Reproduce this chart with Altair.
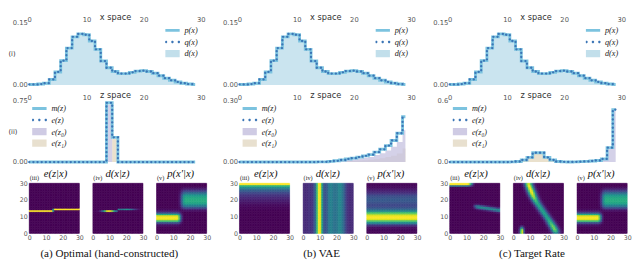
import math
import altair as alt
import pandas as pd

# ---------------- values ----------------
BINS = list(range(30))

# x space (same in all three columns)
p_x = [0.001, 0.001, 0.002, 0.004, 0.013, 0.031, 0.058, 0.088, 0.115, 0.122,
       0.120, 0.105, 0.085, 0.057, 0.041, 0.032, 0.027, 0.027, 0.030, 0.033,
       0.034, 0.032, 0.028, 0.022, 0.016, 0.011, 0.007, 0.004, 0.002, 0.001]
q_x = [0.001, 0.001, 0.002, 0.004, 0.013, 0.031, 0.058, 0.088, 0.115, 0.122,
       0.120, 0.105, 0.085, 0.057, 0.041, 0.032, 0.027, 0.027, 0.030, 0.033,
       0.034, 0.032, 0.028, 0.022, 0.016, 0.011, 0.007, 0.004, 0.002, 0.001]
d_x = [0.001, 0.001, 0.002, 0.004, 0.013, 0.031, 0.058, 0.088, 0.115, 0.122,
       0.120, 0.105, 0.085, 0.057, 0.041, 0.032, 0.027, 0.027, 0.030, 0.033,
       0.034, 0.032, 0.028, 0.022, 0.016, 0.011, 0.007, 0.004, 0.002, 0.001]

# z space, (a) optimal
m_a = [0, 0, 0, 0, 0, 0, 0, 0, 0, 0, 0, 0, 0, 0, 0.72,
       0.30, 0, 0, 0, 0, 0, 0, 0, 0, 0, 0, 0, 0, 0, 0]
ez_a = [0, 0, 0, 0, 0, 0, 0, 0, 0, 0, 0, 0, 0, 0, 0.72,
        0.30, 0, 0, 0, 0, 0, 0, 0, 0, 0, 0, 0, 0, 0, 0]
e0_a = [0, 0, 0, 0, 0, 0, 0, 0, 0, 0, 0, 0, 0, 0, 0.70,
        0, 0, 0, 0, 0, 0, 0, 0, 0, 0, 0, 0, 0, 0, 0]
e1_a = [0, 0, 0, 0, 0, 0, 0, 0, 0, 0, 0, 0, 0, 0, 0,
        0.28, 0, 0, 0, 0, 0, 0, 0, 0, 0, 0, 0, 0, 0, 0]

# z space, (b) VAE
m_b = [0, 0, 0, 0, 0, 0, 0, 0, 0, 0, 0, 0, 0, 0, 0.001,
       0.001, 0.003, 0.006, 0.010, 0.015, 0.019, 0.024, 0.030, 0.036, 0.048,
       0.062, 0.080, 0.105, 0.140, 0.220]
ez_b = [0, 0, 0, 0, 0, 0, 0, 0, 0, 0, 0, 0, 0, 0, 0.001,
        0.001, 0.003, 0.006, 0.010, 0.015, 0.019, 0.024, 0.030, 0.036, 0.048,
        0.062, 0.080, 0.105, 0.140, 0.220]
e0_b = [0, 0, 0, 0, 0, 0, 0, 0, 0, 0, 0, 0, 0, 0, 0.001,
        0.001, 0.002, 0.004, 0.007, 0.010, 0.013, 0.017, 0.021, 0.025, 0.034,
        0.043, 0.056, 0.074, 0.098, 0.154]
e1_b = [0, 0, 0, 0, 0, 0, 0, 0, 0, 0, 0, 0, 0, 0, 0,
        0, 0.001, 0.002, 0.003, 0.005, 0.006, 0.007, 0.009, 0.011, 0.014,
        0.019, 0.024, 0.031, 0.042, 0.066]

# z space, (c) target rate
m_c = [0, 0, 0, 0, 0, 0, 0, 0, 0, 0, 0, 0.002, 0.005, 0.020, 0.045,
       0.090, 0.090, 0.045, 0.020, 0.005, 0.002, 0.001, 0.002, 0.004, 0.006,
       0.010, 0.015, 0.030, 0.140, 0.510]
ez_c = [0, 0, 0, 0, 0, 0, 0, 0, 0, 0, 0, 0.002, 0.005, 0.020, 0.045,
        0.090, 0.090, 0.045, 0.020, 0.005, 0.002, 0.001, 0.002, 0.004, 0.006,
        0.010, 0.015, 0.030, 0.140, 0.510]
e0_c = [0, 0, 0, 0, 0, 0, 0, 0, 0, 0, 0, 0, 0, 0, 0,
        0, 0, 0, 0, 0, 0, 0, 0.002, 0.004, 0.006,
        0.010, 0.015, 0.030, 0.140, 0.510]
e1_c = [0, 0, 0, 0, 0, 0, 0, 0, 0, 0, 0, 0.002, 0.005, 0.018, 0.040,
        0.082, 0.082, 0.040, 0.018, 0.005, 0.002, 0, 0, 0, 0,
        0, 0, 0, 0, 0]

# ---- heatmap readings (rows = vertical 0..29, cols = x 0..29) ----
# (a) e(z|x): weight on row 13 per column, rest goes to row 14
e_a_low = [1, 1, 1, 1, 1, 1, 1, 1, 1, 1, 1, 1, 1, 1, 0.5,
           0, 0, 0, 0, 0, 0, 0, 0, 0, 0, 0, 0, 0, 0, 0]
# (a) d(x|z): brightness of the two rows (13 and 14)
d_a_gain = [1.0, 0.5]
# (a)/(c) p(x'|x): two blocks
p_left_rows = [0, 0, 0, 0, 0.02, 0.08, 0.25, 0.70, 0.95, 1.0,
               0.95, 0.60, 0.22, 0.07, 0.02, 0, 0, 0, 0, 0,
               0, 0, 0, 0, 0, 0, 0, 0, 0, 0]
p_right_rows = [0, 0, 0, 0, 0, 0, 0, 0, 0, 0,
                0, 0, 0, 0.03, 0.10, 0.25, 0.40, 0.52, 0.60, 0.62,
                0.62, 0.60, 0.55, 0.45, 0.33, 0.20, 0.10, 0.04, 0, 0]
p_left_cols = [1, 1, 1, 1, 1, 1, 1, 1, 1, 1, 1, 1, 1, 0.8, 0.4,
               0.1, 0, 0, 0, 0, 0, 0, 0, 0, 0, 0, 0, 0, 0, 0]
p_right_cols = [0, 0, 0, 0, 0, 0, 0, 0, 0, 0, 0, 0, 0, 0.05, 0.25,
                0.6, 0.9, 1, 1, 1, 1, 1, 1, 1, 1, 1, 1, 1, 1, 1]
# (b) VAE
e_b_rows = [0, 0, 0, 0, 0, 0, 0, 0, 0, 0, 0, 0, 0, 0, 0.01,
            0.01, 0.02, 0.03, 0.05, 0.07, 0.09, 0.11, 0.14, 0.17, 0.22,
            0.28, 0.36, 0.48, 0.64, 1.0]
d_b_cols = [0.12, 0.12, 0.12, 0.14, 0.14, 0.15, 0.22, 0.35, 0.70, 1.0,
            0.95, 0.55, 0.28, 0.25, 0.30, 0.40, 0.44, 0.42, 0.38, 0.38,
            0.40, 0.45, 0.45, 0.40, 0.32, 0.22, 0.15, 0.12, 0.12, 0.12]
p_b_rows = [0.01, 0.01, 0.02, 0.03, 0.10, 0.25, 0.48, 0.72, 0.94, 1.0,
            0.98, 0.86, 0.70, 0.47, 0.34, 0.26, 0.22, 0.22, 0.25, 0.27,
            0.28, 0.26, 0.23, 0.18, 0.13, 0.09, 0.06, 0.03, 0.02, 0.01]
# (c) target rate, e(z|x)
e_c_row29 = [1, 1, 1, 1, 1, 1, 1, 1, 1, 1, 1, 0.95, 0.7, 0.35, 0.1,
             0, 0, 0, 0, 0, 0, 0, 0, 0, 0, 0, 0, 0, 0, 0]
e_c_row28 = [0.35, 0.35, 0.35, 0.35, 0.35, 0.35, 0.35, 0.35, 0.35, 0.35, 0.35, 0.3, 0.2, 0.1, 0.03,
             0, 0, 0, 0, 0, 0, 0, 0, 0, 0, 0, 0, 0, 0, 0]
e_c_line_center = [0, 0, 0, 0, 0, 0, 0, 0, 0, 0, 0, 0, 0, 0, 16.3,
                   16.2, 16.0, 15.9, 15.7, 15.6, 15.4, 15.3, 15.1, 15.0, 14.8,
                   14.7, 14.5, 14.4, 14.2, 14.1]
e_c_line_gain = [0, 0, 0, 0, 0, 0, 0, 0, 0, 0, 0, 0, 0, 0, 0.1,
                 0.3, 0.45, 0.5, 0.5, 0.5, 0.5, 0.5, 0.5, 0.5, 0.5,
                 0.5, 0.5, 0.5, 0.5, 0.5]
# (c) d(x|z): diagonal ridge, centre x and brightness for each row
d_c_center = [25.5, 25.2, 24.8, 24.3, 23.7, 23.1, 22.5, 21.9, 21.2, 20.5,
              19.8, 19.1, 18.4, 17.7, 17.0, 16.3, 15.6, 14.9, 14.2, 13.6,
              13.0, 12.5, 12.0, 11.6, 11.2, 10.8, 10.4, 10.0, 9.6, 9.3]
d_c_gain = [0.5, 0.7, 0.8, 0.8, 0.8, 0.75, 0.7, 0.65, 0.62, 0.6,
            0.58, 0.58, 0.58, 0.58, 0.6, 0.6, 0.6, 0.62, 0.65, 0.7,
            0.75, 0.85, 0.9, 0.95, 1.0, 1.0, 1.0, 1.0, 1.0, 0.95]
d_c_blob_gain = [1.0, 1.0, 0.9, 0.5, 0.15, 0, 0, 0, 0, 0,
                 0, 0, 0, 0, 0, 0, 0, 0, 0, 0, 0, 0, 0, 0, 0, 0, 0, 0, 0, 0]
d_c_blob_x = 5.2

# ---------------- style ----------------
BG = "#EAEAF2"
LBL = "#555555"
LINE = "#7cc3df"
DOT = "#3b75b6"
AREA = "#a7d2e4"
PURP = "#c6c2e0"
BEIGE = "#e6dcc4"
W = 178
H_TOP = 65
H_MID = 64
HW = 52
HH = 52

SH_LINE = "M-1,-0.2H1V0.2H-1Z"
SH_DOTS = ("M-1.06,0a0.17,0.17 0 1,0 0.34,0a0.17,0.17 0 1,0 -0.34,0Z"
           "M-0.17,0a0.17,0.17 0 1,0 0.34,0a0.17,0.17 0 1,0 -0.34,0Z"
           "M0.72,0a0.17,0.17 0 1,0 0.34,0a0.17,0.17 0 1,0 -0.34,0Z")
SH_RECT = "M-1,-0.5H1V0.5H-1Z"


def legend_layer(names, colors, shapes, orient):
    lg = alt.Legend(title=None, orient=orient, offset=3, padding=0,
                    symbolSize=225, symbolStrokeWidth=0, symbolOpacity=1,
                    labelFont="Liberation Serif", labelFontStyle="italic",
                    labelFontSize=8.5, labelColor="#222222", clipHeight=11,
                    rowPadding=1, labelOffset=5)
    df = pd.DataFrame({"s": names})
    return alt.Chart(df).mark_point(filled=True).encode(
        color=alt.Color("s:N", scale=alt.Scale(domain=names, range=colors), legend=lg),
        shape=alt.Shape("s:N", scale=alt.Scale(domain=names, range=shapes), legend=lg),
        opacity=alt.value(0),
    )


def x_axis(title):
    return alt.Axis(orient="top", values=[0, 10, 20, 30], labelFontSize=7,
                    labelColor=LBL, labelPadding=0, labelFlush=False,
                    labelOverlap=False, ticks=False, domain=False,
                    gridColor="white", gridWidth=1, title=title,
                    titleFontSize=8.5, titleFontWeight="normal", titleColor="#333333",
                    titleY=-1, titleBaseline="bottom", titleFont="DejaVu Sans")


def y_axis(vals, fmt, title, h):
    kw = dict(values=vals, format=fmt, labelFontSize=7, labelColor=LBL,
              labelPadding=2, labelFlush=False, labelOverlap=False, ticks=False,
              domain=False, gridColor="white", gridWidth=1)
    if title:
        kw.update(title=title, titleAngle=0, titleX=-22, titleY=h / 2,
                  titleAlign="left", titleBaseline="middle", titleFontSize=7,
                  titleFontWeight="normal", titleColor="#333333")
    else:
        kw.update(title=None)
    return alt.Axis(**kw)


def top_panel(first):
    df = pd.DataFrame({"x": BINS, "p": p_x, "q": q_x, "d": d_x})
    base = alt.Chart(df)
    xs = alt.X("x:Q", scale=alt.Scale(domain=[0, 30], nice=False, zero=False),
               axis=x_axis("x space"))
    ys = alt.Y("d:Q", scale=alt.Scale(domain=[0, 0.15], nice=False),
               axis=y_axis([0, 0.05, 0.1, 0.15], ".2f", "(i)" if first else None, H_TOP))
    area = base.mark_area(interpolate="step", color=AREA, opacity=0.6).encode(x=xs, y=ys)
    line = base.mark_line(interpolate="step", color=LINE, strokeWidth=3).encode(x="x:Q", y="p:Q")
    dots = base.mark_line(interpolate="step", color=DOT, strokeWidth=2.4,
                          strokeDash=[0.1, 4.2], strokeCap="round").encode(x="x:Q", y="q:Q")
    leg = legend_layer(["p(x)", "q(x)", "d(x)"], [LINE, DOT, "#c2dfeb"],
                       [SH_LINE, SH_DOTS, SH_RECT], "top-right")
    return alt.layer(area, line, dots, leg).properties(width=W, height=H_TOP)


def mid_panel(m, ez, e0, e1, ymax, yvals, fmt, first):
    df = pd.DataFrame({"z": BINS, "m": m, "e": ez, "e0": e0, "e1": e1})
    base = alt.Chart(df)
    xs = alt.X("z:Q", scale=alt.Scale(domain=[0, 30], nice=False, zero=False),
               axis=x_axis("z space"))
    ys = alt.Y("e1:Q", scale=alt.Scale(domain=[0, ymax], nice=False),
               axis=y_axis(yvals, fmt, "(ii)" if first else None, H_MID))
    a1 = base.mark_area(interpolate="step", color=BEIGE, opacity=0.85).encode(x=xs, y=ys)
    a0 = base.mark_area(interpolate="step", color=PURP, opacity=0.75).encode(x="z:Q", y="e0:Q")
    line = base.mark_line(interpolate="step", color=LINE, strokeWidth=3).encode(x="z:Q", y="m:Q")
    dots = base.mark_line(interpolate="step", color=DOT, strokeWidth=2.4,
                          strokeDash=[0.1, 4.2], strokeCap="round").encode(x="z:Q", y="e:Q")
    leg = legend_layer(["m(z)", "e(z)", "e(z\u2080)", "e(z\u2081)"],
                       [LINE, DOT, "#cfcbe4", "#e8e0cf"],
                       [SH_LINE, SH_DOTS, SH_RECT, SH_RECT], "top-left")
    return alt.layer(a1, a0, line, dots, leg).properties(width=W, height=H_MID)


def heat_df(grid):
    recs = []
    for r in range(30):
        for c in range(30):
            recs.append({"c": c, "c2": c + 1, "r": r, "r2": r + 1,
                         "v": round(max(0.0, min(1.0, float(grid[r][c]))), 4)})
    return pd.DataFrame(recs)


def gauss(pos, centre, width):
    return math.exp(-0.5 * ((pos - centre) / width) ** 2)


def grid_e_a():
    g = [[0.0] * 30 for _ in range(30)]
    for c in range(30):
        g[13][c] = e_a_low[c]
        g[14][c] = 1 - e_a_low[c]
    return g


def grid_d_a():
    g = [[0.0] * 30 for _ in range(30)]
    lmax = max(p_x[:15])
    rmax = max(p_x[15:])
    for c in range(30):
        if c < 15:
            g[13][c] = d_a_gain[0] * p_x[c] / lmax
        else:
            g[14][c] = d_a_gain[1] * p_x[c] / rmax
    return g


def grid_p_blocks():
    return [[p_left_rows[r] * p_left_cols[c] + p_right_rows[r] * p_right_cols[c]
             for c in range(30)] for r in range(30)]


def grid_e_b():
    return [[e_b_rows[r] for c in range(30)] for r in range(30)]


def grid_d_b():
    return [[d_b_cols[c] for c in range(30)] for r in range(30)]


def grid_p_b():
    return [[p_b_rows[r] for c in range(30)] for r in range(30)]


def grid_e_c():
    g = [[0.0] * 30 for _ in range(30)]
    for c in range(30):
        g[29][c] += e_c_row29[c]
        g[28][c] += e_c_row28[c]
        if e_c_line_gain[c] > 0:
            for r in range(30):
                g[r][c] += e_c_line_gain[c] * gauss(r + 0.5, e_c_line_center[c], 0.8)
    return g


def grid_d_c():
    g = [[0.0] * 30 for _ in range(30)]
    for r in range(30):
        for c in range(30):
            g[r][c] = (d_c_gain[r] * gauss(c + 0.5, d_c_center[r], 1.6)
                       + d_c_blob_gain[r] * gauss(c + 0.5, d_c_blob_x, 0.8))
    return g


VIR = alt.Scale(scheme="viridis", domain=[0, 1])


def heatmap(grid, roman, name, dx, first):
    ykw = dict(values=[0, 10, 20, 30], labels=first, labelFontSize=6.5, labelColor=LBL,
               labelPadding=2, labelFlush=False, labelOverlap=False, ticks=False,
               domain=False, grid=False, title=roman, titleAngle=0, titleX=0, titleY=-3,
               titleAlign="left", titleBaseline="bottom", titleFontSize=6.5,
               titleFontWeight="normal", titleFont="Liberation Serif", titleColor="#222222")
    xax = alt.Axis(values=[0, 10, 20, 30], labelFontSize=6.5, labelColor=LBL,
                   labelPadding=1, labelFlush=False, labelOverlap=False, ticks=False,
                   domain=False, grid=False, title=None)
    return alt.Chart(heat_df(grid)).mark_rect(strokeWidth=0.5).encode(
        x=alt.X("c:Q", scale=alt.Scale(domain=[0, 30], nice=False, zero=False), axis=xax),
        x2="c2:Q",
        y=alt.Y("r:Q", scale=alt.Scale(domain=[0, 30], nice=False, zero=False), axis=alt.Axis(**ykw)),
        y2="r2:Q",
        fill=alt.Fill("v:Q", scale=VIR, legend=None),
        stroke=alt.Stroke("v:Q", scale=VIR, legend=None),
    ).properties(
        width=HW, height=HH,
        title=alt.TitleParams(name, anchor="start", frame="group", dx=dx, dy=6, offset=2,
                              font="Liberation Serif", fontStyle="italic", fontSize=11,
                              fontWeight="normal", color="#111111"),
    )


def column(top, mid, grids, caption, first):
    heats = alt.hconcat(
        heatmap(grids[0], "(iii)", "e(z|x)", 15, first),
        heatmap(grids[1], "(iv)", "d(x|z)", 13, False),
        heatmap(grids[2], "(v)", "p(x\u2032|x)", 11, False),
        spacing=6,
    )
    return alt.vconcat(
        top, mid, heats, spacing=0,
        title=alt.TitleParams(caption, orient="bottom", anchor="middle", offset=8,
                              font="Liberation Serif", fontSize=11.5,
                              fontWeight="normal", color="#111111"),
    ).resolve_scale(color="independent", shape="independent")


col_a = column(top_panel(True),
               mid_panel(m_a, ez_a, e0_a, e1_a, 0.75, [0, 0.25, 0.5, 0.75], ".2f", True),
               [grid_e_a(), grid_d_a(), grid_p_blocks()],
               "(a) Optimal (hand-constructed)", True)
col_b = column(top_panel(False),
               mid_panel(m_b, ez_b, e0_b, e1_b, 0.30, [0, 0.15, 0.30], ".2f", False),
               [grid_e_b(), grid_d_b(), grid_p_b()],
               "(b) VAE", True)
col_c = column(top_panel(False),
               mid_panel(m_c, ez_c, e0_c, e1_c, 0.60, [0, 0.3, 0.6], ".1f", False),
               [grid_e_c(), grid_d_c(), grid_p_blocks()],
               "(c) Target Rate", True)

chart = alt.hconcat(col_a, col_b, col_c, spacing=11).resolve_scale(
    color="independent", shape="independent"
).properties(
    padding={"left": 0, "top": 0, "right": 0, "bottom": 0}
).configure(
    font="DejaVu Sans"
).configure_view(
    stroke=None, fill=BG
)

chart.save("out.html", embed_options={"renderer": "svg", "actions": False})
